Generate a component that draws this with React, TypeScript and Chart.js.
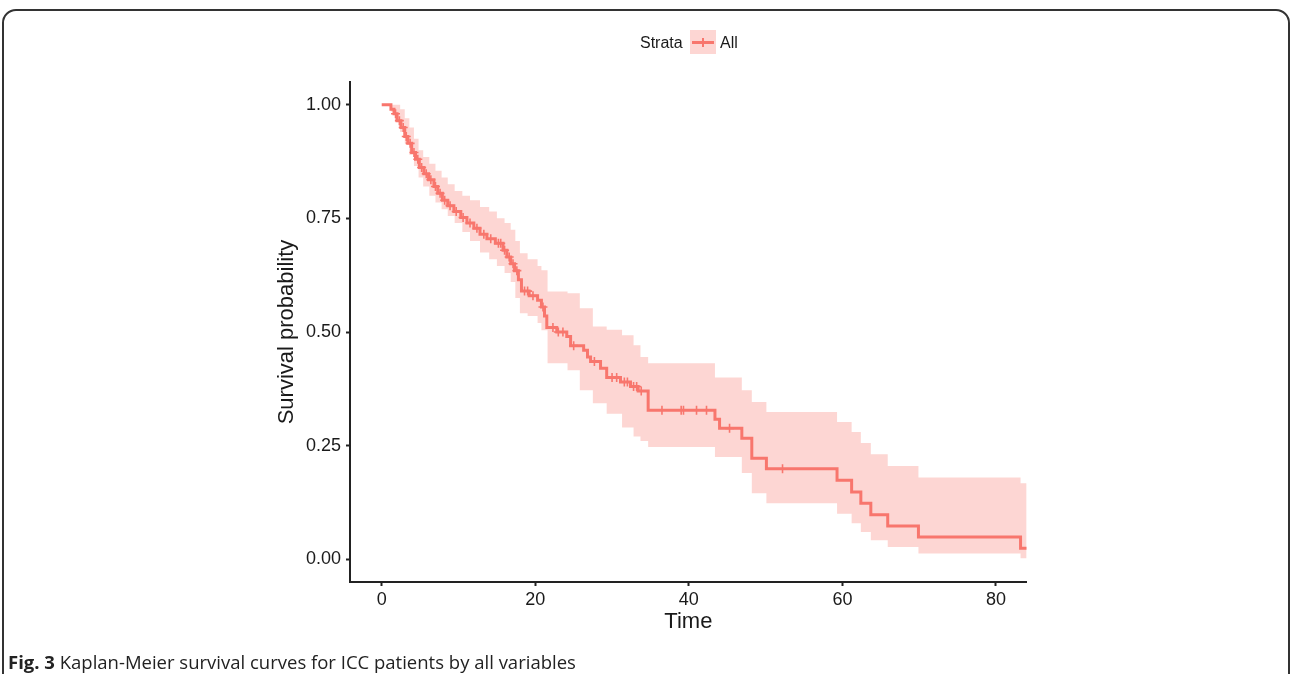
import React, { useEffect, useRef } from 'react';
import { Chart, registerables } from 'chart.js';

Chart.register(...registerables);

// Kaplan-Meier estimate (time in months, survival probability)
const kmTimes = [0, 1.2, 1.6, 2.0, 2.5, 3.0, 3.4, 3.9, 4.4, 4.9, 5.5, 6.1, 6.8, 7.3, 7.9, 8.6, 9.4, 10.3, 11.1, 12.0, 12.8, 13.7, 14.8, 15.8, 16.3, 16.8, 17.3, 17.8, 18.2, 19.2, 20.3, 20.8, 21.2, 21.5, 22.8, 24.1, 24.6, 26.3, 26.8, 27.2, 28.5, 29.3, 31.1, 32.4, 33.4, 34.7, 43.4, 44.0, 46.9, 48.2, 50.1, 59.3, 61.2, 62.4, 63.7, 65.9, 69.9, 83.2, 84];
const kmSurv = [1.0, 0.99, 0.98, 0.965, 0.95, 0.93, 0.915, 0.895, 0.88, 0.862, 0.848, 0.835, 0.82, 0.805, 0.79, 0.778, 0.765, 0.752, 0.74, 0.728, 0.715, 0.705, 0.695, 0.68, 0.665, 0.65, 0.635, 0.615, 0.59, 0.58, 0.57, 0.555, 0.535, 0.51, 0.5, 0.49, 0.47, 0.46, 0.445, 0.435, 0.42, 0.4, 0.39, 0.38, 0.37, 0.328, 0.308, 0.288, 0.266, 0.222, 0.199, 0.174, 0.148, 0.123, 0.098, 0.073, 0.049, 0.024, 0.024];

// Confidence band
const bandTimes = [0, 1.2, 1.8, 2.4, 3.0, 3.6, 4.2, 4.8, 5.4, 6.2, 7.0, 7.8, 8.6, 9.5, 10.5, 11.5, 12.8, 14.0, 15.0, 16.0, 16.8, 17.4, 18.0, 19.0, 20.3, 20.8, 21.6, 24.2, 25.8, 27.5, 29.3, 31.3, 32.8, 33.7, 34.7, 43.4, 46.9, 48.2, 50.1, 59.3, 61.2, 62.4, 63.7, 65.9, 69.9, 83.2, 84];
const bandUpper = [1, 1, 1, 0.99, 0.97, 0.95, 0.925, 0.9, 0.885, 0.87, 0.855, 0.84, 0.825, 0.81, 0.8, 0.79, 0.775, 0.765, 0.75, 0.74, 0.725, 0.7, 0.673, 0.66, 0.645, 0.636, 0.589, 0.585, 0.552, 0.512, 0.505, 0.493, 0.471, 0.445, 0.431, 0.4, 0.372, 0.346, 0.324, 0.302, 0.28, 0.256, 0.231, 0.205, 0.18, 0.167, 0.167];
const bandLower = [1, 0.985, 0.965, 0.94, 0.915, 0.89, 0.865, 0.84, 0.82, 0.8, 0.785, 0.77, 0.755, 0.74, 0.72, 0.7, 0.675, 0.66, 0.645, 0.63, 0.61, 0.575, 0.541, 0.535, 0.52, 0.504, 0.431, 0.416, 0.372, 0.343, 0.32, 0.29, 0.27, 0.26, 0.247, 0.225, 0.19, 0.145, 0.123, 0.1, 0.079, 0.06, 0.042, 0.027, 0.0125, 0.002, 0.002];

// Censoring times
const censorTimes = [1.8, 2.3, 2.8, 3.2, 3.7, 4.2, 4.7, 5.2, 5.8, 6.4, 7.0, 7.6, 8.2, 8.9, 9.7, 10.6, 11.5, 12.4, 13.3, 14.2, 15.2, 15.5, 16.0, 16.6, 17.1, 17.6, 18.6, 19.0, 19.7, 21.0, 22.3, 23.0, 23.6, 25.0, 27.7, 30.0, 30.6, 31.6, 32.0, 32.8, 33.2, 33.8, 36.5, 39.0, 39.3, 41.0, 42.3, 45.3, 52.2];

const xTicks = [0, 20, 40, 60, 80];
const yTicks = [0, 0.25, 0.5, 0.75, 1];

const RED = '#F8766D';
const BAND = 'rgba(248,118,109,0.3)';
const AXIS = '#222222';
const FONT = "'Liberation Sans', Arial, sans-serif";

function survAt(t: number): number {
  let s = kmSurv[0];
  for (let i = 0; i < kmTimes.length; i++) {
    if (kmTimes[i] <= t) s = kmSurv[i];
  }
  return s;
}

export default function App() {
  const canvasRef = useRef<HTMLCanvasElement | null>(null);

  useEffect(() => {
    document.body.style.margin = '0';
    document.body.style.overflow = 'hidden';
    const canvas = canvasRef.current;
    if (!canvas) return;
    const chart = new Chart(canvas, {
      type: 'line',
      data: {
        datasets: [
          {
            label: 'upper',
            data: bandTimes.map((t, i) => ({ x: t, y: bandUpper[i] })),
            stepped: true,
            borderColor: 'transparent',
            borderWidth: 0,
            pointRadius: 0,
            backgroundColor: BAND,
            fill: '+1',
          },
          {
            label: 'lower',
            data: bandTimes.map((t, i) => ({ x: t, y: bandLower[i] })),
            stepped: true,
            borderColor: 'transparent',
            borderWidth: 0,
            pointRadius: 0,
            fill: false,
          },
          {
            label: 'All',
            data: kmTimes.map((t, i) => ({ x: t, y: kmSurv[i] })),
            stepped: true,
            borderColor: RED,
            borderWidth: 3,
            pointRadius: 0,
            fill: false,
          },
          {
            label: 'censor',
            type: 'scatter',
            data: censorTimes.map((t) => ({ x: t, y: survAt(t) })),
            pointStyle: 'cross',
            pointRadius: 4.5,
            borderColor: RED,
            borderWidth: 1.6,
            showLine: false,
          } as any,
        ],
      },
      options: {
        animation: false,
        responsive: true,
        maintainAspectRatio: false,
        layout: { padding: { left: 273.5, right: 266.3, top: 82, bottom: 38.8 } },
        plugins: { legend: { display: false }, tooltip: { enabled: false } },
        scales: {
          x: {
            type: 'linear',
            min: -4.13,
            max: 84,
            afterBuildTicks: (s: any) => {
              s.ticks = xTicks.map((v) => ({ value: v }));
            },
            afterFit: (s: any) => {
              s.height = 53.2;
            },
            ticks: {
              font: { family: FONT, size: 18 },
              color: '#1a1a1a',
              padding: 3,
              callback: (v: any) => String(v),
            },
            grid: { display: true, drawOnChartArea: false, drawTicks: true, tickLength: 4, tickColor: AXIS, tickWidth: 2 },
            border: { display: true, color: AXIS, width: 2 },
            title: { display: true, text: 'Time', font: { family: FONT, size: 22 }, color: '#1a1a1a', padding: 0 },
          },
          y: {
            type: 'linear',
            min: -0.05,
            max: 1.05,
            afterBuildTicks: (s: any) => {
              s.ticks = yTicks.map((v) => ({ value: v }));
            },
            afterFit: (s: any) => {
              s.width = 76.5;
            },
            ticks: {
              font: { family: FONT, size: 18 },
              color: '#1a1a1a',
              padding: 5,
              callback: (v: any) => Number(v).toFixed(2),
            },
            grid: { display: true, drawOnChartArea: false, drawTicks: true, tickLength: 4, tickColor: AXIS, tickWidth: 2 },
            border: { display: true, color: AXIS, width: 2 },
            title: { display: true, text: 'Survival probability', font: { family: FONT, size: 22 }, color: '#1a1a1a', padding: 0 },
          },
        },
      },
    });
    return () => chart.destroy();
  }, []);

  return (
    <div style={{ position: 'fixed', left: 0, top: 0, width: 1293, height: 674, overflow: 'hidden', background: '#fff' }}>
      <div
        style={{
          position: 'absolute',
          left: 2,
          top: 9,
          width: 1288,
          height: 720,
          border: '2px solid #333',
          borderRadius: 14,
          boxSizing: 'border-box',
        }}
      />
      <div style={{ position: 'absolute', left: 0, top: 0, width: 1293, height: 674 }}>
        <canvas ref={canvasRef} />
      </div>
      {/* Legend */}
      <div style={{ position: 'absolute', left: 640, top: 33, fontFamily: FONT, fontSize: 16, lineHeight: '20px', color: '#1a1a1a' }}>Strata</div>
      <div style={{ position: 'absolute', left: 690, top: 30, width: 26, height: 24, background: BAND }}>
        <div style={{ position: 'absolute', left: 2, top: 11, width: 22, height: 2.5, background: RED }} />
        <div style={{ position: 'absolute', left: 12, top: 8, width: 1.5, height: 9, background: RED }} />
      </div>
      <div style={{ position: 'absolute', left: 720, top: 33, fontFamily: FONT, fontSize: 16, lineHeight: '20px', color: '#1a1a1a' }}>All</div>
      {/* Caption */}
      <div style={{ position: 'absolute', left: 8, top: 650, fontFamily: "'Open Sans', sans-serif", fontSize: 18.5, lineHeight: '24px', color: '#222', whiteSpace: 'nowrap' }}>
        <b>Fig. 3</b> Kaplan-Meier survival curves for ICC patients by all variables
      </div>
    </div>
  );
}
